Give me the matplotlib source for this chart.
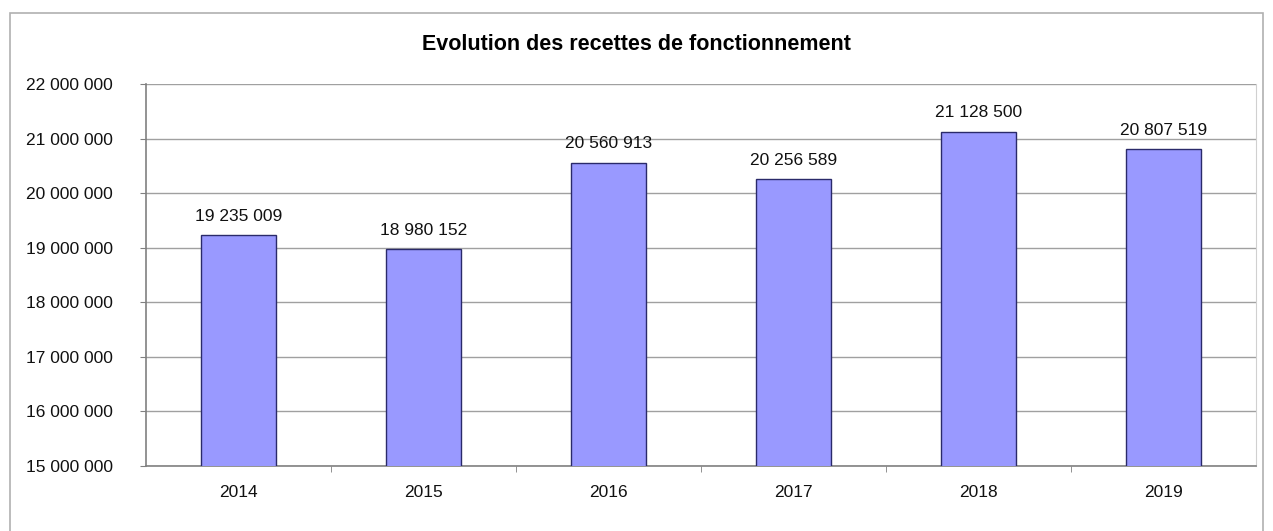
import matplotlib.pyplot as plt
from matplotlib.patches import Rectangle

annees = ["2014", "2015", "2016", "2017", "2018", "2019"]
recettes = [19235009, 18980152, 20560913, 20256589, 21128500, 20807519]
y_ticks = [15000000, 16000000, 17000000, 18000000, 19000000, 20000000, 21000000, 22000000]


def fmt(v):
    return f"{v:,}".replace(",", " ")


plt.rcParams['font.family'] = ['Liberation Sans', 'DejaVu Sans']

fig = plt.figure(figsize=(12.73, 5.31), dpi=100)
fig.patches.append(Rectangle((10 / 1273, -0.05), 1253 / 1273, 1.05 - 13 / 531,
                             transform=fig.transFigure, fill=False,
                             edgecolor="#b0b0b0", linewidth=1.2))

ax = fig.add_axes([146 / 1273, 1 - 466 / 531, 1110 / 1273, 382 / 531])
x = range(len(annees))
ax.bar(x, recettes, width=0.41, color="#9999ff", edgecolor="#2a2a6a", linewidth=1, zorder=3)

for i, v in enumerate(recettes):
    ax.annotate(fmt(v), (i, v), xytext=(0, 8), textcoords="offset points",
                ha="center", va="bottom", fontsize=12.5, color="#111111")

ax.set_ylim(15000000, 22000000)
ax.set_xlim(-0.5, len(annees) - 0.5)
ax.set_yticks(y_ticks)
ax.set_yticklabels([fmt(t) for t in y_ticks], fontsize=12.5, color="#111111")
ax.set_xticks(list(x))
ax.set_xticklabels(annees, fontsize=12.5, color="#111111")
ax.set_xticks([i + 0.5 for i in range(len(annees) - 1)], minor=True)
ax.tick_params(axis="x", which="major", length=0, pad=14)
ax.tick_params(axis="x", which="minor", length=4, color="#808080")
ax.tick_params(axis="y", length=4, color="#808080", pad=20)
ax.grid(axis="y", color="#a0a0a0", linewidth=1, zorder=0)

for s in ["left", "bottom"]:
    ax.spines[s].set_color("#808080")
    ax.spines[s].set_linewidth(1.2)
ax.spines["top"].set_visible(False)
ax.spines["right"].set_color("#d0d0d0")

fig.text(0.5, 1 - 45 / 531, "Evolution des recettes de fonctionnement",
         ha="center", va="center", fontsize=15.5, fontweight="bold")

fig.savefig("out.png", dpi=100)
